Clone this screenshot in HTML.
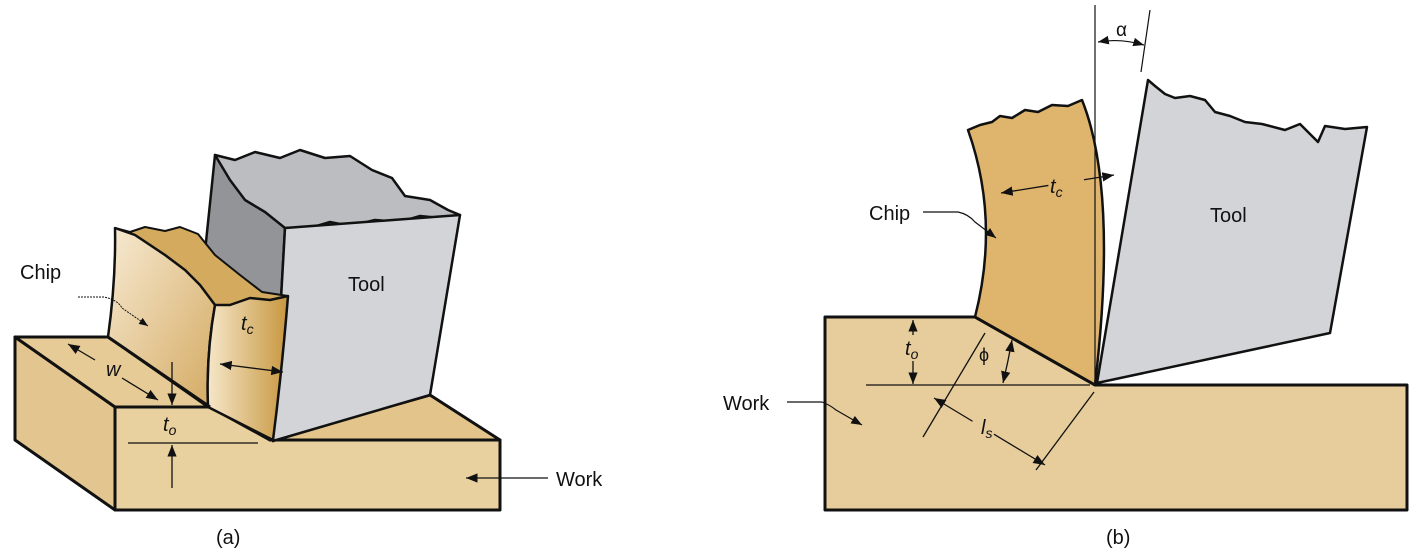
<!DOCTYPE html>
<html><head><meta charset="utf-8"><style>
html,body{margin:0;padding:0;background:#fff;}
svg{display:block;}
text{font-family:"Liberation Sans",sans-serif;fill:#111;}
</style></head><body>
<svg width="1419" height="555" viewBox="0 0 1419 555">
<defs>
<linearGradient id="chipFront" x1="0" y1="0" x2="1" y2="1"><stop offset="0" stop-color="#f7ead2"/><stop offset="1" stop-color="#d4aa62"/></linearGradient>
<linearGradient id="chipSide" x1="0" y1="0" x2="1" y2="0"><stop offset="0" stop-color="#f6e7c9"/><stop offset="1" stop-color="#c7973f"/></linearGradient>
<marker id="ar" viewBox="0 0 10 10" refX="10" refY="5" markerWidth="9" markerHeight="9" orient="auto-start-reverse"><path d="M0,1 L10,5 L0,9 z" fill="#111"/></marker>
</defs>
<g stroke="#111" stroke-linejoin="round">
 <polygon points="15,337 115,407 115,510 15,440" fill="#e3c58f" stroke-width="3"/>
 <polygon points="15,337 108,337 210,407 115,407" fill="#e6cb96" stroke-width="3"/>
 <polygon points="115,407 210,407 270,440 500,440 500,510 115,510" fill="#e9d09f" stroke-width="3"/>
 <polygon points="270,440 430,395 500,440" fill="#e3c58c" stroke-width="3"/>
 <polygon points="215,155 285,228 273,441 200,300" fill="#939497" stroke-width="2.5"/>
 <polygon points="215,155 235,160 255,152 280,158 300,150 325,158 350,156 372,170 392,178 405,196 430,200 448,210 460,215 440,218 420,216 400,222 375,220 350,226 330,222 310,228 285,228 265,212 245,200 230,180" fill="#bcbdc0" stroke-width="2.5"/>
 <polygon points="285,228 460,215 430,395 273,441" fill="#d3d4d7" stroke-width="2.5"/>
 <polygon points="115,228 130,232 145,227 165,231 180,227 198,234 215,255 240,275 262,292 288,296 270,300 250,298 230,305 215,305 200,285 185,270 165,255 150,245 135,235" fill="#d3aa5e" stroke-width="2"/>
 <path d="M115,228 L135,235 150,245 165,255 185,270 200,285 215,305 Q206,355 208,407 L108,337 Q116,280 115,228 z" fill="url(#chipFront)" stroke-width="2.5"/>
 <path d="M215,305 L230,305 250,298 270,300 288,296 Q282,370 273,440 L208,407 Q206,355 215,305 z" fill="url(#chipSide)" stroke-width="2.5"/>
 <line x1="108" y1="337" x2="210" y2="407" stroke-width="3"/>
 <g stroke-width="1.3" fill="none">
  <line x1="95" y1="360" x2="68" y2="344" marker-end="url(#ar)"/>
  <line x1="122" y1="378" x2="158" y2="400" marker-end="url(#ar)"/>
 </g>
 <g stroke-width="1.3" fill="none">
  <line x1="172" y1="362" x2="172" y2="405" marker-end="url(#ar)"/>
  <line x1="172" y1="488" x2="172" y2="445" marker-end="url(#ar)"/>
  <line x1="128" y1="443" x2="258" y2="443"/>
 </g>
 <line x1="220" y1="364" x2="283" y2="372" stroke-width="1.3" marker-start="url(#ar)" marker-end="url(#ar)"/>
 <path d="M78,297 L104,297 Q118,300 122,308 L148,326" stroke-width="1" fill="none" stroke-dasharray="2 1" marker-end="url(#ar)"/>
 <line x1="548" y1="478" x2="466" y2="478" stroke-width="1.3" marker-end="url(#ar)"/>
</g>
<g font-size="20">
 <text x="20" y="279">Chip</text>
 <text x="348" y="291">Tool</text>
 <text x="556" y="486">Work</text>
 <text x="106" y="376" font-style="italic">w</text>
 <text x="163" y="431" font-style="italic">t<tspan font-size="14" dy="4">o</tspan></text>
 <text x="241" y="330" font-style="italic">t<tspan font-size="14" dy="4">c</tspan></text>
 <text x="216" y="544">(a)</text>
</g>
<g stroke="#111" stroke-linejoin="round">
 <polygon points="825,317 975,317 1095,385 1407,385 1407,510 825,510" fill="#e7cd9b" stroke-width="3"/>
 <path d="M968,130 L980,125 992,122 1000,116 1012,118 1025,110 1038,112 1052,105 1068,106 1082,100 Q1118,190 1095,385 L975,317 Q1000,220 968,130 z" fill="#dfb56d" stroke-width="2.5"/>
 <line x1="975" y1="317" x2="1095" y2="385" stroke-width="3"/>
 <polygon points="1148,80 1155,86 1165,94 1175,98 1190,96 1205,100 1215,112 1230,116 1245,122 1262,124 1285,130 1300,124 1318,142 1325,126 1345,129 1367,127 1330,333 1097,383" fill="#d3d4d7" stroke-width="2.5"/>
 <line x1="1095" y1="5" x2="1095" y2="385" stroke-width="1.2"/>
 <line x1="1150" y1="10" x2="1141" y2="72" stroke-width="1.2"/>
 <path d="M1098,42 Q1120,38 1144,45" fill="none" stroke-width="1.2" marker-start="url(#ar)" marker-end="url(#ar)"/>
 <line x1="1001" y1="193" x2="1114" y2="175" stroke-width="1.3" marker-start="url(#ar)" marker-end="url(#ar)" stroke-dasharray="48 36 200"/>
 <line x1="913" y1="320" x2="913" y2="384" stroke-width="1.3" marker-start="url(#ar)" marker-end="url(#ar)" stroke-dasharray="15 26 100"/>
 <line x1="866" y1="385" x2="1090" y2="385" stroke-width="1.3"/>
 <path d="M1012,340 Q1008,362 1003,383" fill="none" stroke-width="1.3" marker-start="url(#ar)" marker-end="url(#ar)"/>
 <line x1="923" y1="437" x2="985" y2="333" stroke-width="1.3"/>
 <line x1="1036" y1="470" x2="1094" y2="392" stroke-width="1.3"/>
 <line x1="934" y1="398" x2="1045" y2="465" stroke-width="1.3" marker-start="url(#ar)" marker-end="url(#ar)" stroke-dasharray="45 25 200"/>
 <path d="M923,212 L958,212 Q968,214 975,222 L996,238" stroke-width="1.2" fill="none" marker-end="url(#ar)"/>
 <path d="M787,402 L822,402 Q830,405 836,410 L862,425" stroke-width="1.2" fill="none" marker-end="url(#ar)"/>
</g>
<g font-size="20">
 <text x="869" y="220">Chip</text>
 <text x="1210" y="222">Tool</text>
 <text x="723" y="410">Work</text>
 <text x="1116" y="36" font-size="19">α</text>
 <text x="1050" y="193" font-style="italic">t<tspan font-size="14" dy="4">c</tspan></text>
 <text x="905" y="355" font-style="italic">t<tspan font-size="14" dy="4">o</tspan></text>
 <text x="979" y="361" font-size="18">ϕ</text>
 <text x="981" y="434" font-style="italic">l<tspan font-size="14" dy="4">s</tspan></text>
 <text x="1106" y="544">(b)</text>
</g>
</svg>
</body></html>
